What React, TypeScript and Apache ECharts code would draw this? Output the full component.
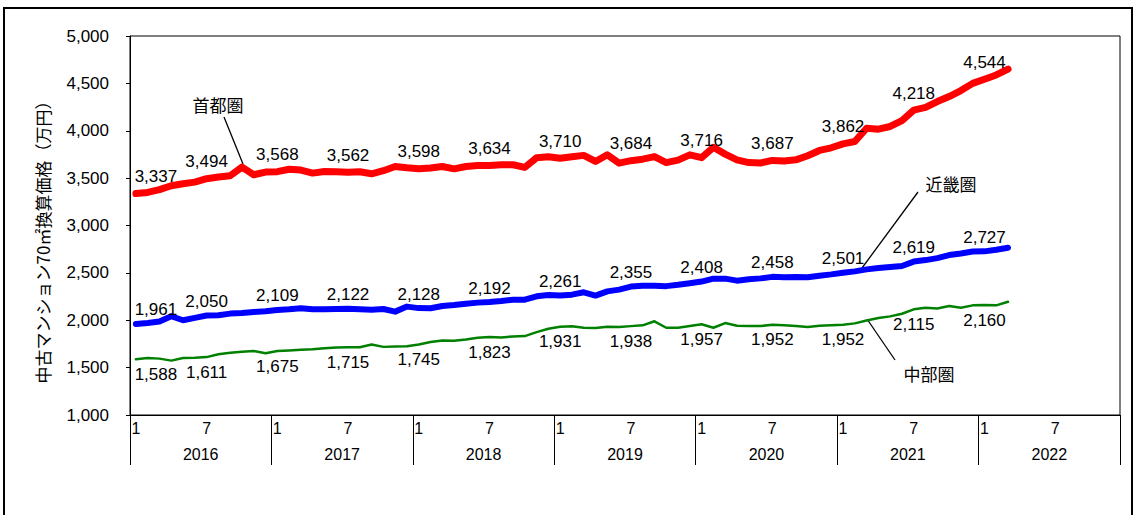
import React, { useEffect, useRef } from "react";
import * as echarts from "echarts";

const years = ["2016", "2017", "2018", "2019", "2020", "2021", "2022"];
const months: string[] = [];
years.forEach((y) => {
  for (let m = 1; m <= 12; m++) months.push(`${y}-${m}`);
});

const shutoken = [
  3337, 3349, 3378, 3420, 3441, 3458, 3494, 3511, 3525, 3616, 3536, 3564,
  3568, 3594, 3585, 3553, 3570, 3567, 3562, 3567, 3546, 3578, 3623, 3609,
  3598, 3606, 3623, 3598, 3623, 3634, 3634, 3641, 3641, 3613, 3715, 3725,
  3710, 3726, 3740, 3676, 3746, 3658, 3684, 3700, 3727, 3664, 3690, 3746,
  3716, 3825, 3753, 3693, 3664, 3660, 3687, 3680, 3693, 3736, 3792, 3820,
  3862, 3886, 4027, 4017, 4045, 4108, 4218, 4246, 4308, 4361, 4424, 4500,
  4544, 4589, 4650,
];

const kinki = [
  1961, 1972, 1986, 2042, 2000, 2025, 2050, 2052, 2070, 2077, 2088, 2095,
  2109, 2116, 2126, 2116, 2116, 2119, 2122, 2116, 2112, 2119, 2091, 2144,
  2128, 2126, 2151, 2161, 2175, 2186, 2192, 2203, 2217, 2217, 2253, 2267,
  2261, 2270, 2295, 2260, 2305, 2323, 2355, 2363, 2363, 2360, 2374, 2391,
  2408, 2439, 2439, 2418, 2432, 2442, 2458, 2453, 2456, 2453, 2470, 2484,
  2501, 2516, 2537, 2551, 2561, 2572, 2619, 2635, 2656, 2688, 2705, 2725,
  2727, 2744, 2765,
];

const chubu = [
  1588, 1602, 1595, 1574, 1602, 1605, 1611, 1641, 1658, 1668, 1675, 1651,
  1675, 1681, 1688, 1695, 1705, 1712, 1715, 1715, 1744, 1719, 1722, 1726,
  1745, 1770, 1787, 1783, 1797, 1815, 1823, 1819, 1829, 1833, 1875, 1910,
  1931, 1936, 1921, 1918, 1932, 1928, 1938, 1946, 1989, 1921, 1921, 1939,
  1957, 1921, 1970, 1942, 1939, 1939, 1952, 1946, 1939, 1928, 1942, 1946,
  1952, 1967, 1998, 2023, 2041, 2069, 2115, 2132, 2125, 2150, 2132, 2157,
  2160, 2157, 2195,
];

const yTicks = { min: 1000, max: 5000, interval: 500 };
const yAxisTitle = "中古マンション70㎡換算価格（万円）";
const seriesNames = ["首都圏", "近畿圏", "中部圏"];

const NUM_FONT = "'Liberation Sans', Arial, sans-serif";
const JP_FONT = "'Noto Sans CJK JP', sans-serif";

const fmt = (v: number) => Number(v).toLocaleString("en-US");

function buildData(values: number[]) {
  return values.map((v, i) => ({
    value: v,
    label: {
      show: i % 6 === 0,
      offset: i === 0 ? [20, 0] : [0, 0],
    },
  }));
}

export default function App() {
  const ref = useRef<HTMLDivElement>(null);

  useEffect(() => {
    if (!ref.current) return;
    const chart = echarts.init(ref.current, null, { renderer: "svg" });

    const labelBase = {
      color: "#000",
      fontSize: 17,
      fontFamily: NUM_FONT,
      formatter: (p: any) => fmt(p.value),
    };

    const mkSeries = (
      name: string,
      values: number[],
      color: string,
      width: number,
      pos: string,
      dist: number
    ) => ({
      type: "line",
      name,
      data: buildData(values),
      xAxisIndex: 0,
      yAxisIndex: 0,
      symbol: "circle",
      symbolSize: 1,
      showSymbol: true,
      showAllSymbol: true,
      itemStyle: { color },
      lineStyle: { color, width, cap: "round", join: "round" },
      label: { ...labelBase, position: pos, distance: dist },
      emphasis: { disabled: true },
      silent: true,
    });

    chart.setOption({
      animation: false,
      grid: {
        left: 130,
        right: 14,
        top: 36,
        bottom: 100,
        show: true,
        borderColor: "#000",
        borderWidth: 1,
        backgroundColor: "transparent",
      },
      xAxis: [
        {
          type: "category",
          data: months,
          boundaryGap: true,
          position: "bottom",
          axisLine: { show: true, lineStyle: { color: "#000", width: 1 } },
          axisTick: { show: false },
          splitLine: { show: false },
          axisLabel: {
            interval: 0,
            margin: 5,
            color: "#000",
            fontSize: 16,
            fontFamily: NUM_FONT,
            formatter: (v: string) => {
              const m = Number(v.split("-")[1]);
              return m === 1 || m === 7 ? String(m) : "";
            },
          },
        },
        {
          type: "category",
          data: years,
          boundaryGap: true,
          position: "bottom",
          axisLine: { show: false },
          axisTick: {
            show: true,
            length: 50,
            interval: 0,
            lineStyle: { color: "#000", width: 1 },
          },
          splitLine: { show: false },
          axisLabel: {
            interval: 0,
            margin: 31,
            color: "#000",
            fontSize: 16,
            fontFamily: NUM_FONT,
          },
        },
      ],
      yAxis: {
        type: "value",
        min: yTicks.min,
        max: yTicks.max,
        interval: yTicks.interval,
        axisLine: { show: true, lineStyle: { color: "#000", width: 1 } },
        axisTick: { show: true, length: 4, lineStyle: { color: "#000" } },
        splitLine: { show: false },
        axisLabel: {
          margin: 21,
          color: "#000",
          fontSize: 17,
          fontFamily: NUM_FONT,
          formatter: (v: number) => fmt(v),
        },
      },
      series: [
        mkSeries(seriesNames[0], shutoken, "#ff0000", 7, "top", 8),
        mkSeries(seriesNames[1], kinki, "#0000ff", 6, "top", 5),
        mkSeries(seriesNames[2], chubu, "#008000", 2.5, "bottom", 6),
      ],
      graphic: [
        {
          type: "rect",
          silent: true,
          shape: { x: 4, y: 8, width: 1128, height: 530 },
          style: { fill: "none", stroke: "#000", lineWidth: 2 },
        },
        {
          type: "text",
          x: 42,
          y: 238,
          rotation: Math.PI / 2,
          style: {
            text: yAxisTitle,
            fill: "#000",
            font: `17px ${JP_FONT}`,
            fontSize: 17,
            fontFamily: JP_FONT,
            textAlign: "center",
            textVerticalAlign: "middle",
            align: "center",
            verticalAlign: "middle",
          },
        },
        {
          type: "text",
          x: 218,
          y: 104,
          style: {
            text: seriesNames[0],
            fill: "#000",
            font: `17px ${JP_FONT}`,
            fontSize: 17,
            fontFamily: JP_FONT,
            textAlign: "center",
            textVerticalAlign: "middle",
            align: "center",
            verticalAlign: "middle",
          },
        },
        {
          type: "line",
          shape: { x1: 224, y1: 117, x2: 243, y2: 164 },
          style: { stroke: "#000", lineWidth: 1.3 },
        },
        {
          type: "text",
          x: 951,
          y: 183,
          style: {
            text: seriesNames[1],
            fill: "#000",
            font: `17px ${JP_FONT}`,
            fontSize: 17,
            fontFamily: JP_FONT,
            textAlign: "center",
            textVerticalAlign: "middle",
            align: "center",
            verticalAlign: "middle",
          },
        },
        {
          type: "line",
          shape: { x1: 918, y1: 192, x2: 862, y2: 268 },
          style: { stroke: "#000", lineWidth: 1.3 },
        },
        {
          type: "text",
          x: 929,
          y: 373,
          style: {
            text: seriesNames[2],
            fill: "#000",
            font: `17px ${JP_FONT}`,
            fontSize: 17,
            fontFamily: JP_FONT,
            textAlign: "center",
            textVerticalAlign: "middle",
            align: "center",
            verticalAlign: "middle",
          },
        },
        {
          type: "line",
          shape: { x1: 867, y1: 319, x2: 895, y2: 360 },
          style: { stroke: "#000", lineWidth: 1.3 },
        },
      ],
    });

    return () => chart.dispose();
  }, []);

  return (
    <div
      ref={ref}
      style={{
        position: "absolute",
        left: 0,
        top: 0,
        width: 1134,
        height: 515,
        background: "#fff",
      }}
    />
  );
}
